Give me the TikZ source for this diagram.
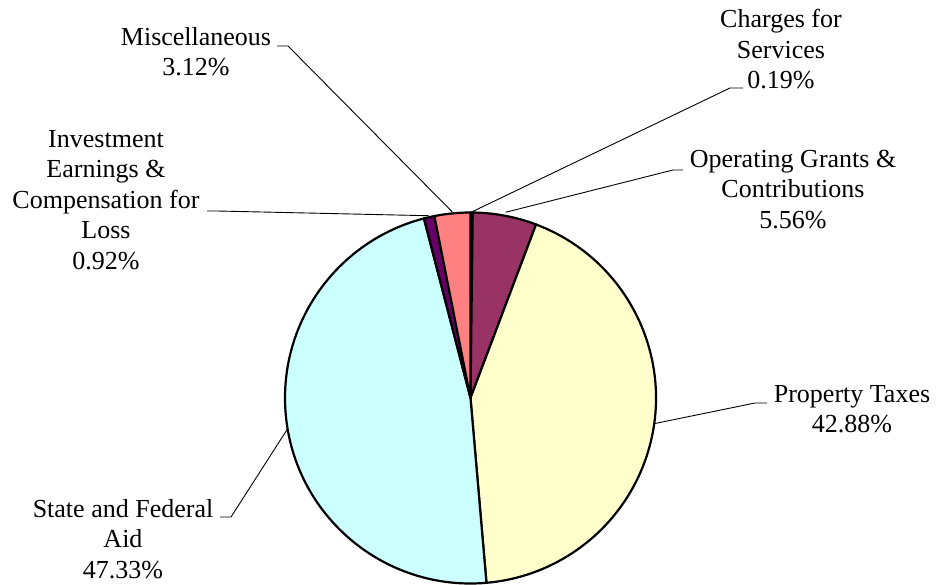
\documentclass[tikz,border=0pt]{standalone}
\usepackage{fontspec}
\setmainfont{Liberation Serif}
\usetikzlibrary{calc}
\definecolor{cCharge}{HTML}{9999FF}
\definecolor{cOper}{HTML}{993366}
\definecolor{cProp}{HTML}{FFFFCC}
\definecolor{cState}{HTML}{CCFFFF}
\definecolor{cInv}{HTML}{660066}
\definecolor{cMisc}{HTML}{FF8080}
\begin{document}
\begin{tikzpicture}[x=1pt,y=-1pt,
  slice/.style={draw=black,line width=2.2pt,line join=round},
  lbl/.style={anchor=north,align=center,inner sep=0pt,font=\fontsize{26}{30.5}\selectfont},
  leader/.style={draw=black,line width=0.9pt}]
\useasboundingbox (0,0) rectangle (938,585);
\coordinate (c) at (470.5,398);
\def\R{185.5pt}
% slices
\filldraw[slice,fill=cCharge] (c) -- ++(90:\R) arc[start angle=90,end angle=89.316,radius=\R] -- cycle;
\filldraw[slice,fill=cOper] (c) -- ++(89.316:\R) arc[start angle=89.316,end angle=69.3,radius=\R] -- cycle;
\filldraw[slice,fill=cProp] (c) -- ++(69.3:\R) arc[start angle=69.3,end angle=-85.07,radius=\R] -- cycle;
\filldraw[slice,fill=cState] (c) -- ++(-85.07:\R) arc[start angle=-85.07,end angle=-255.46,radius=\R] -- cycle;
\filldraw[slice,fill=cInv] (c) -- ++(-255.46:\R) arc[start angle=-255.46,end angle=-258.77,radius=\R] -- cycle;
\filldraw[slice,fill=cMisc] (c) -- ++(-258.77:\R) arc[start angle=-258.77,end angle=-270,radius=\R] -- cycle;
% labels
\node[lbl] (misc) at (196,27) {Miscellaneous\\3.12\%};
\node[lbl] (charge) at (781,9) {Charges for\\Services\\0.19\%};
\node[lbl] (oper) at (793,150) {Operating Grants \&\\Contributions\\5.56\%};
\node[lbl] (inv) at (106,130) {Investment\\Earnings \&\\Compensation for\\Loss\\0.92\%};
\node[lbl] (prop) at (852,385) {Property Taxes\\42.88\%};
\node[lbl] (state) at (123,499) {State and Federal\\Aid\\47.33\%};
% leader anchor points
\coordinate (mA) at (277,46);  \coordinate (mB) at (288,46);
\coordinate (mP) at ($(c)+(95.6:187pt)$);
\coordinate (chA) at (743,88); \coordinate (chB) at (730,88);
\coordinate (chP) at ($(c)+(89.66:186pt)$);
\coordinate (oA) at (683,170); \coordinate (oB) at (673,170);
\coordinate (oP) at ($(c)+(79.3:189pt)$);
\coordinate (iA) at (207,211); \coordinate (iB) at (217,211);
\coordinate (iP) at ($(c)+(102.9:187pt)$);
\coordinate (pA) at (767,403); \coordinate (pB) at (755,403);
\coordinate (pP) at ($(c)+(-7.9:186pt)$);
\coordinate (sA) at (220,517); \coordinate (sB) at (231,517);
\coordinate (sP) at ($(c)+(-170.27:186pt)$);
% leaders
\draw[leader] (mA) -- (mB) -- (mP);
\draw[leader] (chA) -- (chB) -- (chP);
\draw[leader] (oA) -- (oB) -- (oP);
\draw[leader] (iA) -- (iB) -- (iP);
\draw[leader] (pA) -- (pB) -- (pP);
\draw[leader] (sA) -- (sB) -- (sP);
\end{tikzpicture}
\end{document}
